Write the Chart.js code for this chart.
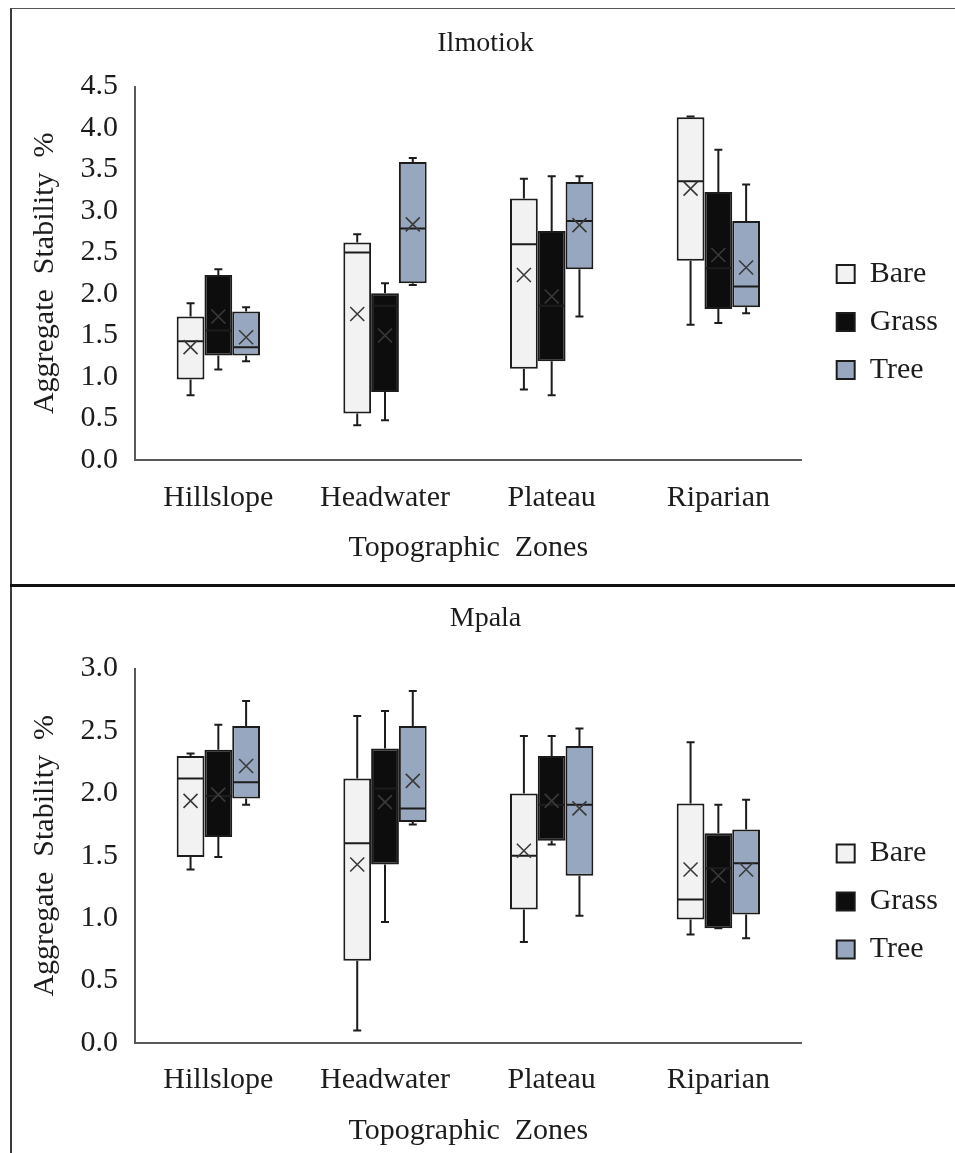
<!DOCTYPE html>
<html>
<head>
<meta charset="utf-8">
<title>Aggregate Stability by Topographic Zone</title>
<script src="https://cdn.jsdelivr.net/npm/chart.js@4.4.1/dist/chart.umd.min.js"></script>
<style>
  html, body { margin: 0; padding: 0; background: #ffffff; }
  body { width: 955px; height: 1153px; position: relative; overflow: hidden; }
  .frame { position: absolute; left: 10px; top: 8px; width: 960px; height: 1160px;
           border-left: 2px solid #3c3c3c; border-top: 1px solid #555555; }
  .divider { position: absolute; left: 10px; top: 584px; width: 960px; height: 3px; background: #111111; }
  canvas { position: absolute; left: 12px; }
  #ilmotiok { top: 10px; }
  #mpala { top: 588px; }
</style>
</head>
<body>
<div class="frame"></div>
<div class="divider"></div>
<canvas id="ilmotiok" width="943" height="573"></canvas>
<canvas id="mpala" width="943" height="565"></canvas>
<script>
// Categories and cover types
const zones = ['Hillslope', 'Headwater', 'Plateau', 'Riparian'];
const covers = ['Bare', 'Grass', 'Tree'];

// Box statistics per zone, in order: [min, q1, median, q3, max, mean]
const ilmotiokBare  = [[0.78, 0.97, 1.43, 1.73, 1.89, 1.36],
                       [0.42, 0.56, 2.50, 2.62, 2.72, 1.76],
                       [0.85, 1.10, 2.60, 3.15, 3.39, 2.23],
                       [1.63, 2.40, 3.36, 4.13, 4.14, 3.27]];
const ilmotiokGrass = [[1.09, 1.26, 1.56, 2.23, 2.30, 1.73],
                       [0.48, 0.82, 1.86, 2.01, 2.13, 1.50],
                       [0.78, 1.19, 1.86, 2.76, 3.42, 1.97],
                       [1.65, 1.82, 2.31, 3.23, 3.74, 2.47]];
const ilmotiokTree  = [[1.19, 1.26, 1.36, 1.79, 1.84, 1.48],
                       [2.11, 2.13, 2.79, 3.59, 3.64, 2.84],
                       [1.73, 2.30, 2.88, 3.35, 3.42, 2.83],
                       [1.77, 1.84, 2.09, 2.88, 3.32, 2.32]];

const mpalaBare  = [[1.39, 1.49, 2.12, 2.30, 2.32, 1.94],
                    [0.10, 0.66, 1.60, 2.12, 2.62, 1.43],
                    [0.81, 1.07, 1.50, 2.00, 2.46, 1.54],
                    [0.87, 0.99, 1.15, 1.92, 2.41, 1.39]];
const mpalaGrass = [[1.49, 1.65, 1.98, 2.35, 2.55, 1.99],
                    [0.97, 1.43, 2.04, 2.36, 2.66, 1.93],
                    [1.59, 1.62, 1.91, 2.30, 2.46, 1.94],
                    [0.92, 0.92, 1.40, 1.68, 1.91, 1.34]];
const mpalaTree  = [[1.91, 1.96, 2.09, 2.54, 2.74, 2.22],
                    [1.75, 1.77, 1.88, 2.54, 2.82, 2.10],
                    [1.02, 1.34, 1.91, 2.38, 2.52, 1.88],
                    [0.84, 1.03, 1.44, 1.71, 1.95, 1.39]];

// Value axis ranges (ticks every 0.5)
const ilmotiokAxisMax = 4.5;
const mpalaAxisMax = 3.0;
const tickStep = 0.5;

const coverFills = ['#f2f2f2', '#0d0d0d', '#97a7bf'];
const ink = '#1c1c1c';

Chart.defaults.font.family = "'Liberation Serif', 'Times New Roman', serif";
Chart.defaults.color = ink;

// Whiskers, median lines and mean crosses drawn on top of the Q1–Q3 bars
const boxDetails = {
  id: 'boxDetails',
  afterDatasetsDraw(chart) {
    const ctx = chart.ctx;
    const y = chart.scales.y;
    chart.data.datasets.forEach((ds, di) => {
      const meta = chart.getDatasetMeta(di);
      meta.data.forEach((bar, i) => {
        const [mn, q1, med, q3, mx, mean] = ds.stats[i];
        const x = bar.x;
        const half = bar.width / 2;
        const pTop = y.getPixelForValue(q3);
        const pBot = y.getPixelForValue(q1);
        const pMax = y.getPixelForValue(mx);
        const pMin = y.getPixelForValue(mn);
        const pMed = y.getPixelForValue(med);
        const pMean = y.getPixelForValue(mean);
        ctx.save();
        ctx.strokeStyle = ink;
        ctx.lineWidth = 2;
        ctx.beginPath();
        // upper whisker + cap
        ctx.moveTo(x, pTop); ctx.lineTo(x, pMax);
        ctx.moveTo(x - 4, pMax); ctx.lineTo(x + 4, pMax);
        // lower whisker + cap
        ctx.moveTo(x, pBot); ctx.lineTo(x, pMin);
        ctx.moveTo(x - 4, pMin); ctx.lineTo(x + 4, pMin);
        // median
        ctx.moveTo(x - half + 1, pMed); ctx.lineTo(x + half - 1, pMed);
        ctx.stroke();
        // mean marker
        ctx.strokeStyle = '#3a3a3a';
        ctx.lineWidth = 1.6;
        const s = 7;
        ctx.beginPath();
        ctx.moveTo(x - s, pMean - s); ctx.lineTo(x + s, pMean + s);
        ctx.moveTo(x - s, pMean + s); ctx.lineTo(x + s, pMean - s);
        ctx.stroke();
        ctx.restore();
      });
    });
  }
};

// Nudges the legend and title blocks after layout
const blockNudge = {
  id: 'blockNudge',
  afterLayout(chart, args, opts) {
    const lg = chart.legend;
    if (lg) {
      lg.left += opts.legendDx; lg.right += opts.legendDx;
      lg.top += opts.legendDy; lg.bottom += opts.legendDy;
    }
    const tb = chart.titleBlock;
    if (tb) { tb.left += opts.titleDx; tb.right += opts.titleDx; }
  }
};

function makeDatasets(seriesList) {
  return seriesList.map((rows, k) => ({
    label: covers[k],
    data: rows.map(r => [r[1], r[3]]),
    stats: rows,
    backgroundColor: coverFills[k],
    borderColor: ink,
    borderWidth: 2,
    borderSkipped: false,
    barPercentage: 1.0,
    categoryPercentage: 0.5
  }));
}

function makeChart(canvasId, titleText, seriesList, axisMax, lay) {
  return new Chart(document.getElementById(canvasId), {
    type: 'bar',
    data: { labels: zones, datasets: makeDatasets(seriesList) },
    plugins: [boxDetails, blockNudge],
    options: {
      responsive: false,
      animation: false,
      events: [],
      layout: { padding: { left: 0, right: lay.padRight, top: 0, bottom: lay.padBottom } },
      plugins: {
        title: {
          display: true,
          text: titleText,
          color: ink,
          font: { size: 28, weight: 'normal' },
          padding: { top: lay.titleTop, bottom: lay.titleBottom }
        },
        legend: {
          position: 'right',
          labels: {
            boxWidth: 18,
            boxHeight: 18,
            padding: 18,
            color: ink,
            font: { size: 30 }
          }
        },
        tooltip: { enabled: false },
        blockNudge: { legendDx: lay.legendDx, legendDy: lay.legendDy, titleDx: lay.titleDx }
      },
      scales: {
        x: {
          type: 'category',
          offset: true,
          grid: { display: false, drawTicks: false },
          border: { display: true, color: '#595959', width: 2 },
          ticks: { font: { size: 30 }, padding: lay.xTickPad, color: ink },
          title: { display: true, text: 'Topographic  Zones', font: { size: 30 }, color: ink,
                   padding: { top: 0, bottom: 4 } },
          afterFit(scale) { scale.height = 110; }
        },
        y: {
          min: 0,
          max: axisMax,
          grid: { display: false, drawTicks: false },
          border: { display: true, color: '#595959', width: 2 },
          ticks: {
            stepSize: tickStep,
            font: { size: 30 },
            padding: 17,
            color: ink,
            callback: v => Number(v).toFixed(1)
          },
          title: { display: true, text: 'Aggregate  Stability  %', font: { size: 30 }, color: ink,
                   padding: { top: 15, bottom: 0 } },
          afterFit(scale) { scale.width = 123; }
        }
      }
    }
  });
}

makeChart('ilmotiok', 'Ilmotiok', [ilmotiokBare, ilmotiokGrass, ilmotiokTree], ilmotiokAxisMax,
  { padRight: 24, padBottom: 13, titleTop: 17, titleBottom: 26, xTickPad: 20, legendDx: 17, legendDy: 32, titleDx: 14 });
makeChart('mpala', 'Mpala', [mpalaBare, mpalaGrass, mpalaTree], mpalaAxisMax,
  { padRight: 24, padBottom: 0, titleTop: 14, titleBottom: 33, xTickPad: 19, legendDx: 17, legendDy: 31, titleDx: 14 });
</script>
</body>
</html>
